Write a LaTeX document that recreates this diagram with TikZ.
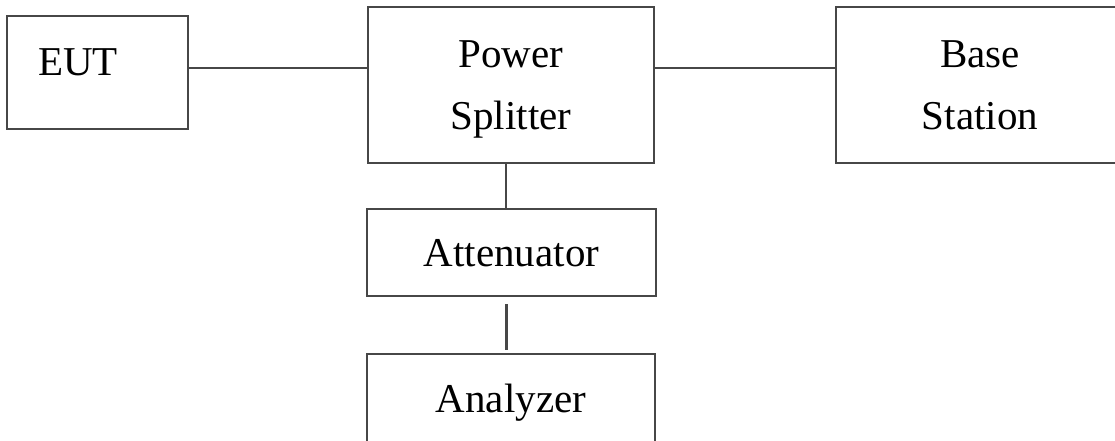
\documentclass[tikz,border=0pt]{standalone}
\usepackage{fontspec}
\setmainfont{Liberation Serif}
\usetikzlibrary{calc}
\colorlet{boxStroke}{black!72}
\colorlet{wireColor}{black!72}
\newcommand{\BoxFont}{\fontsize{41}{62}\selectfont}

\begin{document}
\begin{tikzpicture}[
  x=1pt, y=-1pt,
  unit/.style={draw=boxStroke,line width=2.6pt,inner sep=0pt,text depth=0pt,align=center,font=\BoxFont},
  tag/.style={inner sep=0pt,font=\BoxFont},
  wire/.style={wireColor,line width=2.6pt}
]
\useasboundingbox (0,0) rectangle (1115,441);

% Boxes
\node[unit,minimum width=181pt,minimum height=113pt] (eut) at (97.5,72.5) {};
\node[tag] (eutlbl) at (78,62) {EUT};
\node[unit,minimum width=286pt,minimum height=156pt] (ps) at (511,85) {Power\\Splitter};
\node[unit,minimum width=288pt,minimum height=156pt] (bs) at (980,85) {Base\\Station};
\node[unit,minimum width=289pt,minimum height=87pt] (att) at (511.5,252.5) {Attenuator};
\node[unit,minimum width=288pt,minimum height=89pt] (ana) at (511,398.5) {Analyzer};

% Connections
\draw[wire] ([yshift=4.5pt]eut.east) -- ([yshift=4.5pt]eut.east -| ps.west);
\draw[wire] ([yshift=17pt]ps.east) -- ([yshift=17pt]ps.east -| bs.west);
\draw[wire] ([xshift=-5pt]ps.south) -- ([xshift=-5pt]ps.south |- att.north);
\draw[wire] ([xshift=-5pt,yshift=-7pt]att.south) -- ([xshift=-5pt,yshift=3pt]att.south |- ana.north);

\end{tikzpicture}
\end{document}
